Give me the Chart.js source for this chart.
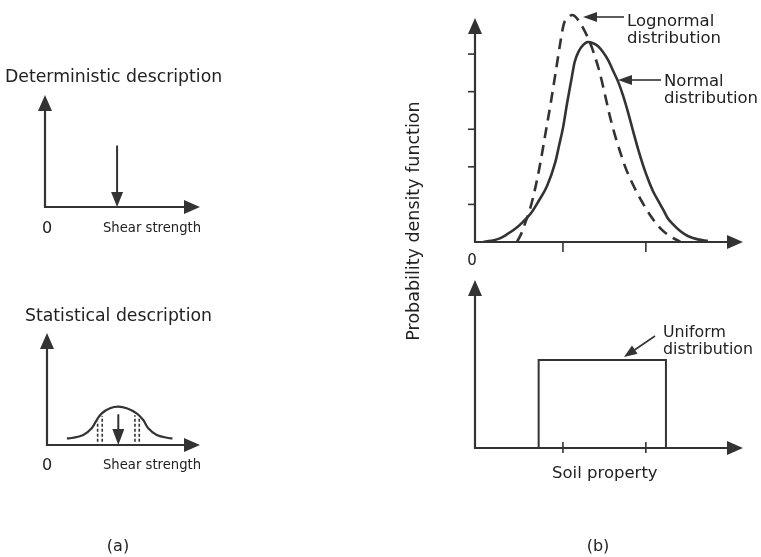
<!DOCTYPE html>
<html>
<head>
<meta charset="utf-8">
<script src="https://cdn.jsdelivr.net/npm/chart.js@4.4.0/dist/chart.umd.min.js"></script>
<style>
  html, body { margin: 0; padding: 0; background: #fff; }
  #wrap { position: relative; width: 761px; height: 557px; overflow: hidden; background: #fff; }
  #wrap canvas { position: absolute; left: 0; top: 0; }
</style>
</head>
<body>
<div id="wrap">
  <canvas id="cDet" width="761" height="557"></canvas>
  <canvas id="cStat" width="761" height="557"></canvas>
  <canvas id="cPdf" width="761" height="557"></canvas>
  <canvas id="cUni" width="761" height="557"></canvas>
</div>
<script>
// ---------- text ----------
const detTitle = 'Deterministic description';
const statTitle = 'Statistical description';
const shearLabel = 'Shear strength';
const originLabel = '0';
const pdfAxisTitle = 'Probability density function';
const soilLabel = 'Soil property';
const lognormalLabel = ['Lognormal', 'distribution'];
const normalLabel = ['Normal', 'distribution'];
const uniformLabel = ['Uniform', 'distribution'];
const partLabels = ['(a)', '(b)'];

// ---------- (a) deterministic: one value of shear strength ----------
const detValue = 4.65;
const detArrowTop = 5.5;

// ---------- (a) statistical: scatter of shear strength ----------
const statX = [1.3, 1.5, 2.37, 2.92, 3.25, 3.58, 4.12, 4.66, 5.21, 5.86, 6.29, 6.62, 7.17, 8.04, 8.2];
const statY = [0.6, 0.6, 0.89, 1.49, 2.23, 2.83, 3.28, 3.42, 3.28, 2.83, 2.23, 1.49, 0.89, 0.6, 0.6];
const statMean = 4.66;
const statArrowTop = 2.75;
const statBandX = [3.31, 3.61, 5.75, 6.03];
const statBandTop = [2.1, 2.6, 2.65, 2.35];
const statBandBase = 0.3;

// ---------- (b) probability density functions of a soil property ----------
const normalX = [0.10, 0.19, 0.29, 0.38, 0.48, 0.57, 0.67, 0.76, 0.86, 0.96, 1.00, 1.05, 1.10, 1.15, 1.19, 1.24, 1.29, 1.35,
                 1.41, 1.47, 1.53, 1.59, 1.65, 1.71, 1.77, 1.83, 1.89, 1.95, 2.01, 2.07, 2.13, 2.19, 2.25, 2.30, 2.36, 2.45, 2.54, 2.66, 2.78];
const normalY = [0.00, 0.03, 0.09, 0.20, 0.35, 0.53, 0.77, 1.09, 1.49, 2.13, 2.53, 3.03, 3.70, 4.31, 4.79, 5.08, 5.24, 5.32,
                 5.29, 5.21, 5.05, 4.84, 4.55, 4.26, 3.88, 3.43, 2.93, 2.45, 2.02, 1.65, 1.33, 1.09, 0.85, 0.64, 0.48, 0.29, 0.16, 0.07, 0.03];
const lognormalX = [0.50, 0.55, 0.60, 0.66, 0.72, 0.78, 0.84, 0.90, 0.96, 1.02, 1.06, 1.11, 1.16, 1.19, 1.25, 1.31,
                    1.37, 1.43, 1.49, 1.55, 1.61, 1.67, 1.73, 1.79, 1.85, 1.93, 2.03, 2.13, 2.22, 2.33, 2.45];
const lognormalY = [0.00, 0.21, 0.51, 0.90, 1.44, 2.10, 2.87, 3.64, 4.47, 5.32, 5.80, 5.96, 6.04, 6.01, 5.85, 5.61,
                    5.32, 4.95, 4.50, 3.94, 3.35, 2.85, 2.42, 2.02, 1.70, 1.33, 0.93, 0.59, 0.35, 0.15, 0.01];
const uniformRange = [0.76, 2.28];
const uniformHeight = 2.34;
const pdfTicksX = [1.05, 2.04];
const pdfTicksY = [1, 2, 3, 4, 5];

// ---------- styling ----------
const INK = '#333333';
const TEXT = '#222222';
const FONT = '"DejaVu Sans", "Liberation Sans", sans-serif';
const W = 761, H = 557;

function pts(xs, ys) { return xs.map((x, i) => ({ x, y: ys[i] })); }

function head(ctx, tx, ty, fx, fy, len, half) {
  const a = Math.atan2(ty - fy, tx - fx);
  const bx = tx - len * Math.cos(a), by = ty - len * Math.sin(a);
  ctx.beginPath();
  ctx.moveTo(tx, ty);
  ctx.lineTo(bx + half * Math.sin(a), by - half * Math.cos(a));
  ctx.lineTo(bx - half * Math.sin(a), by + half * Math.cos(a));
  ctx.closePath();
  ctx.fillStyle = INK;
  ctx.fill();
}

function line(ctx, x1, y1, x2, y2, w) {
  ctx.beginPath();
  ctx.moveTo(x1, y1);
  ctx.lineTo(x2, y2);
  ctx.lineWidth = w;
  ctx.strokeStyle = INK;
  ctx.setLineDash([]);
  ctx.stroke();
}

function text(ctx, s, x, y, size, align) {
  ctx.font = size + 'px ' + FONT;
  ctx.fillStyle = TEXT;
  ctx.textAlign = align || 'left';
  ctx.textBaseline = 'alphabetic';
  ctx.fillText(s, x, y);
}

// axes with arrow tips at the scale maxima
function axes(chart) {
  const { ctx } = chart;
  const xs = chart.scales.x, ys = chart.scales.y;
  const x0 = xs.getPixelForValue(0), y0 = ys.getPixelForValue(0);
  const x1 = xs.getPixelForValue(xs.max), y1 = ys.getPixelForValue(ys.max);
  line(ctx, x0, y0, x1 - 8, y0, 2.2);
  line(ctx, x0, y0 + 1, x0, y1 + 8, 2.2);
  head(ctx, x1, y0, x0, y0, 16, 7);
  head(ctx, x0, y1, x0, y0, 16, 7);
  return { xs, ys, x0, y0 };
}

function panel(id, area, xMax, yMax, datasets, deco) {
  return new Chart(document.getElementById(id), {
    type: 'line',
    data: { datasets },
    options: {
      responsive: false,
      animation: false,
      devicePixelRatio: 1,
      events: [],
      layout: { padding: { left: area[0], top: area[1], right: W - area[2], bottom: H - area[3] } },
      scales: {
        x: { type: 'linear', min: 0, max: xMax, display: false },
        y: { type: 'linear', min: 0, max: yMax, display: false }
      },
      elements: { point: { radius: 0 }, line: { tension: 0, fill: false, borderCapStyle: 'butt' } },
      plugins: { legend: { display: false }, tooltip: { enabled: false }, title: { display: false } }
    },
    plugins: [{ id: 'deco', afterDatasetsDraw: deco }]
  });
}

// ---------- (a) top ----------
panel('cDet', [45, 95, 200, 207], 10, 10, [
  { data: [{ x: detValue, y: detArrowTop }, { x: detValue, y: 0.6 }], borderColor: INK, borderWidth: 2 }
], chart => {
  const { ctx } = chart;
  const { xs, ys } = axes(chart);
  head(ctx, xs.getPixelForValue(detValue), ys.getPixelForValue(0), xs.getPixelForValue(detValue), ys.getPixelForValue(detArrowTop), 15, 6);
  text(ctx, detTitle, 5, 82, 17.3);
  text(ctx, originLabel, 47, 233, 16, 'center');
  text(ctx, shearLabel, 103, 232, 13.2);
  text(ctx, partLabels[0], 118, 551, 16, 'center');
});

// ---------- (a) bottom ----------
panel('cStat', [47, 333, 200, 445], 10, 10, [
  { data: pts(statX, statY), borderColor: INK, borderWidth: 2.2, tension: 0.4 },
  ...statBandX.map((x, i) => ({
    data: [{ x, y: statBandBase }, { x, y: statBandTop[i] }],
    borderColor: INK, borderWidth: 1.6, borderDash: [3, 2]
  })),
  { data: [{ x: statMean, y: statArrowTop }, { x: statMean, y: 0.6 }], borderColor: INK, borderWidth: 2 }
], chart => {
  const { ctx } = chart;
  const { xs, ys } = axes(chart);
  head(ctx, xs.getPixelForValue(statMean), ys.getPixelForValue(0), xs.getPixelForValue(statMean), ys.getPixelForValue(statArrowTop), 16, 6);
  text(ctx, statTitle, 25, 321, 17.3);
  text(ctx, originLabel, 47, 470, 16, 'center');
  text(ctx, shearLabel, 103, 469, 13.2);
});

// ---------- (b) top ----------
panel('cPdf', [475, 18, 743, 242], 3.2, 5.96, [
  { data: pts(normalX, normalY), borderColor: INK, borderWidth: 2.6, cubicInterpolationMode: 'monotone' },
  { data: pts(lognormalX, lognormalY), borderColor: INK, borderWidth: 2.6, borderDash: [11, 7], cubicInterpolationMode: 'monotone', clip: false }
], chart => {
  const { ctx } = chart;
  const { xs, ys, x0, y0 } = axes(chart);
  pdfTicksY.forEach(v => { const y = ys.getPixelForValue(v); line(ctx, x0 - 7, y, x0, y, 1.6); });
  pdfTicksX.forEach(v => { const x = xs.getPixelForValue(v); line(ctx, x, y0, x, y0 + 10, 1.6); });
  text(ctx, originLabel, 472, 265, 15, 'center');
  // pointers to the curves
  line(ctx, 624, 17, 594, 17, 1.6);
  head(ctx, 583, 17, 624, 17, 14, 5);
  text(ctx, lognormalLabel[0], 627, 26, 16.5);
  text(ctx, lognormalLabel[1], 627, 43, 16.5);
  line(ctx, 661, 80, 629, 80, 1.6);
  head(ctx, 618, 80, 661, 80, 14, 5);
  text(ctx, normalLabel[0], 664, 86, 16.5);
  text(ctx, normalLabel[1], 664, 103, 16.5);
  // shared vertical axis title
  ctx.save();
  ctx.translate(419, 221);
  ctx.rotate(-Math.PI / 2);
  text(ctx, pdfAxisTitle, 0, 0, 17.5, 'center');
  ctx.restore();
  text(ctx, partLabels[1], 598, 551, 16, 'center');
});

// ---------- (b) bottom ----------
panel('cUni', [475, 280, 743, 448], 3.2, 4.47, [
  { data: [{ x: uniformRange[0], y: 0 }, { x: uniformRange[0], y: uniformHeight }, { x: uniformRange[1], y: uniformHeight }, { x: uniformRange[1], y: 0 }],
    borderColor: INK, borderWidth: 2 }
], chart => {
  const { ctx } = chart;
  const { xs, y0 } = axes(chart);
  pdfTicksX.forEach(v => { const x = xs.getPixelForValue(v); line(ctx, x, y0 - 6, x, y0 + 5, 1.6); });
  line(ctx, 655, 336, 633, 351, 1.6);
  head(ctx, 624, 357, 655, 336, 13, 5);
  text(ctx, uniformLabel[0], 663, 337, 15.8);
  text(ctx, uniformLabel[1], 663, 354, 15.8);
  text(ctx, soilLabel, 552, 478, 16.5);
});
</script>
</body>
</html>
